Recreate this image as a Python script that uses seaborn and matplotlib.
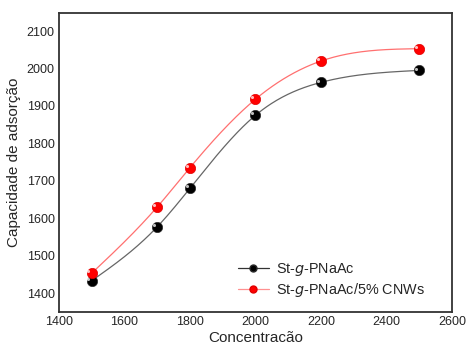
import numpy as np
import pandas as pd
import matplotlib
matplotlib.use("Agg")
import matplotlib.pyplot as plt
from matplotlib.lines import Line2D
import seaborn as sns

concentration = [1500, 1700, 1800, 2000, 2200, 2500]
plain = [1433, 1577, 1680, 1875, 1963, 1995]
cnw = [1453, 1630, 1735, 1918, 2020, 2053]
series_names = ["St-$g$-PNaAc", "St-$g$-PNaAc/5% CNWs"]

sns.set_style("white")
plt.rcParams["font.family"] = ["Liberation Sans", "DejaVu Sans"]


def smooth_curve(x, y, n=300):
    """Natural cubic spline through the points (Origin-style smooth line)."""
    x = np.asarray(x, float)
    y = np.asarray(y, float)
    npts = len(x)
    h = np.diff(x)
    A = np.zeros((npts, npts))
    b = np.zeros(npts)
    A[0, 0] = A[-1, -1] = 1
    for i in range(1, npts - 1):
        A[i, i - 1] = h[i - 1]
        A[i, i] = 2 * (h[i - 1] + h[i])
        A[i, i + 1] = h[i]
        b[i] = 6 * ((y[i + 1] - y[i]) / h[i] - (y[i] - y[i - 1]) / h[i - 1])
    M = np.linalg.solve(A, b)
    xs = np.linspace(x[0], x[-1], n)
    k = np.clip(np.searchsorted(x, xs) - 1, 0, npts - 2)
    a = x[k + 1] - xs
    c = xs - x[k]
    hk = h[k]
    ys = (M[k] * a**3 + M[k + 1] * c**3) / (6 * hk) \
        + (y[k] / hk - M[k] * hk / 6) * a + (y[k + 1] / hk - M[k + 1] * hk / 6) * c
    return xs, ys


df = pd.DataFrame({
    "x": concentration * 2,
    "y": plain + cnw,
    "serie": [series_names[0]] * 6 + [series_names[1]] * 6,
})

fig = plt.figure(figsize=(4.67, 3.45), dpi=100)
ax = fig.add_axes([0.126, 0.096, 0.842, 0.866])

styles = {
    series_names[0]: ("black", "#666666", "#2a2a2a"),
    series_names[1]: ("red", "#ff7070", "#e00000"),
}

for name, (col, lcol, edge) in styles.items():
    sub = df[df["serie"] == name]
    xs, ys = smooth_curve(sub["x"], sub["y"])
    sns.lineplot(x=xs, y=ys, color=lcol, lw=0.9, ax=ax)
    sns.scatterplot(data=sub, x="x", y="y", s=55, color=col, edgecolor=edge,
                    linewidth=0.5, zorder=3, ax=ax)
    ax.scatter(sub["x"] - 10, sub["y"] + 5, s=5, color="white", alpha=0.75,
               linewidth=0, zorder=4)

handles = [
    Line2D([], [], color="#333333", lw=0.9, marker="o", markersize=5,
           markerfacecolor="black", markeredgecolor="#2a2a2a"),
    Line2D([], [], color="#ff9090", lw=0.9, marker="o", markersize=5,
           markerfacecolor="red", markeredgecolor="#e00000"),
]
ax.legend(handles, series_names, loc="center left", frameon=False,
          fontsize=10.4, handlelength=2.15, handletextpad=0.5,
          labelspacing=0.2, borderpad=0, borderaxespad=0,
          bbox_to_anchor=(0.455, 0.107))

ax.set_xlim(1400, 2600)
ax.set_ylim(1350, 2148)
ax.set_xticks(range(1400, 2601, 200))
ax.set_yticks(range(1400, 2101, 100))
ax.tick_params(length=0, labelsize=9, pad=3)
for s in ax.spines.values():
    s.set_color("#333333")
    s.set_linewidth(1.3)

ax.set_xlabel("Concentracão", fontsize=11, labelpad=2)
ax.set_ylabel("Capacidade de adsorção", fontsize=11, labelpad=4)

fig.savefig("out.png", dpi=100)
